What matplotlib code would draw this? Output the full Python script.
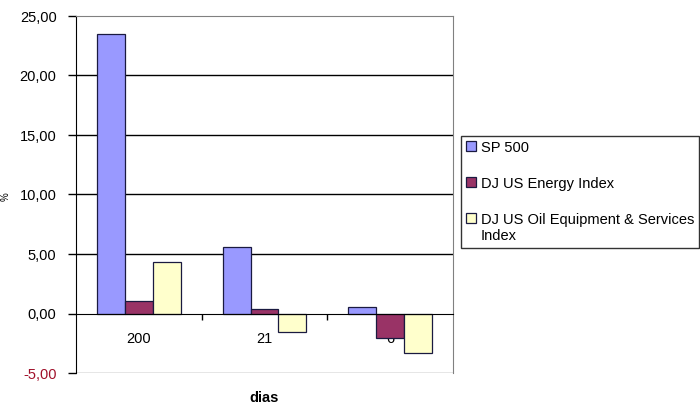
import matplotlib.pyplot as plt
import numpy as np

plt.rcParams['font.family'] = ['Liberation Sans', 'DejaVu Sans']

# Data
categories = ['200', '21', '6']
series_names = ['SP 500', 'DJ US Energy Index', 'DJ US Oil Equipment & Services\nIndex']
sp500 = [23.45, 5.58, 0.56]
energy = [1.06, 0.34, -2.05]
oil_services = [4.34, -1.54, -3.36]

colors = ['#9999ff', '#993366', '#ffffcc']
yticks = [-5, 0, 5, 10, 15, 20, 25]

fig = plt.figure(figsize=(7, 4.19), dpi=100)
ax = fig.add_axes([76/700, 1 - 373/419, (453 - 76)/700, (373 - 16)/419])

x = np.arange(len(categories))
w = 1 / 4.5
for i, vals in enumerate([sp500, energy, oil_services]):
    ax.bar(x + (i - 1) * w, vals, width=w, color=colors[i],
           edgecolor='#1a1a40', linewidth=0.9, label=series_names[i], zorder=3)

ax.set_xlim(-0.5, 2.5)
ax.set_ylim(-5, 25)

# Gridlines (black) between, gray border at top/bottom/right
for v in [5, 10, 15, 20]:
    ax.axhline(v, color='black', linewidth=1, zorder=1)
ax.axhline(-5, color='#808080', linewidth=1, zorder=1)

ax.spines['top'].set_color('#808080')
ax.spines['right'].set_color('#808080')
ax.spines['left'].set_color('black')
ax.spines['bottom'].set_position(('data', 0))
ax.spines['bottom'].set_color('black')
ax.spines['bottom'].set_zorder(4)

# y ticks
ax.set_yticks(yticks)
ax.set_yticklabels([f'{v:.2f}'.replace('.', ',') for v in yticks], fontsize=10.5)
ax.tick_params(axis='y', direction='out', length=6, width=1, pad=8)
ax.get_yticklabels()[0].set_color('#a0102a')

# x ticks: labels at centres, tick marks between categories
ax.set_xticks(x)
ax.set_xticklabels(categories, fontsize=10.5)
ax.tick_params(axis='x', which='major', length=0, pad=13)
ax.set_xticks([0.5, 1.5], minor=True)
ax.tick_params(axis='x', which='minor', direction='out', length=4, width=1)

fig.text(264/700, 1 - 398/419, 'dias', ha='center', va='center',
         fontsize=10.5, fontweight='bold')
fig.text(6/700, 1 - 197/419, '%', ha='center', va='center',
         fontsize=7, rotation=90)

leg = fig.legend(loc='upper left', bbox_to_anchor=(461/700, 1 - 136/419),
                 fontsize=10.5, frameon=True, fancybox=False, edgecolor='black',
                 handlelength=0.7, handleheight=0.7, handletextpad=0.3,
                 labelspacing=1.5, borderpad=0.35, borderaxespad=0)
# put each legend square next to the first line of its label
for col in leg._legend_handle_box.get_children():
    for row in col.get_children():
        row.align = 'top'

fig.savefig('out.png', dpi=100)
